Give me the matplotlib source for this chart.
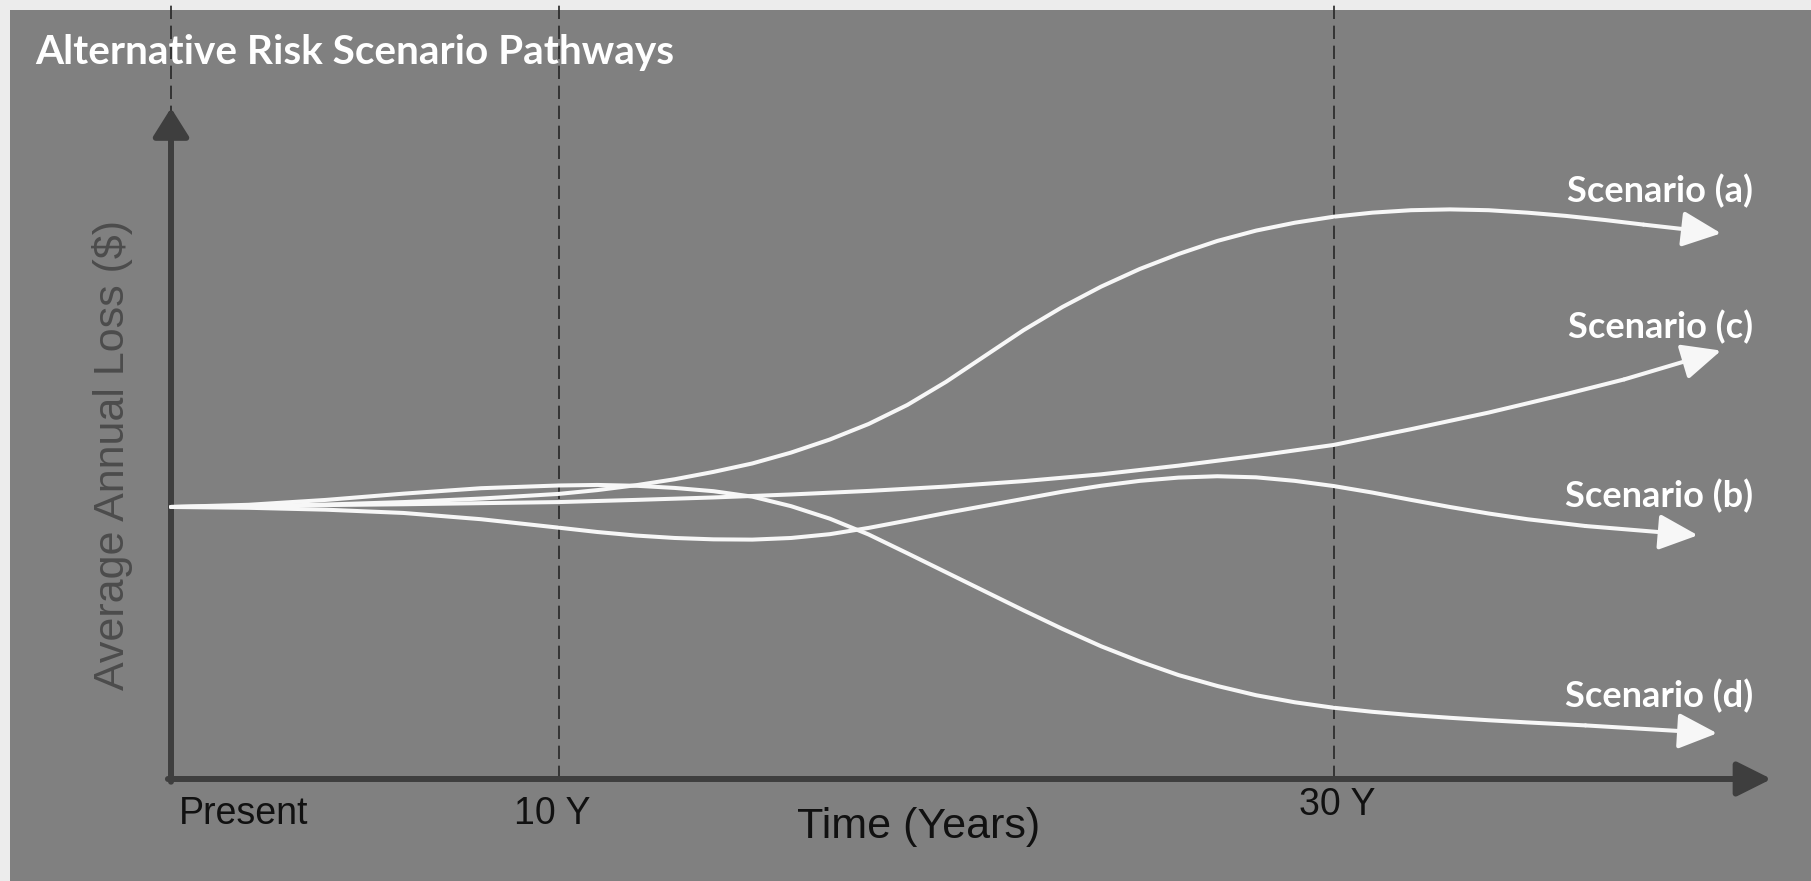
import matplotlib
matplotlib.use("Agg")
import matplotlib.pyplot as plt

# ── data (time in years, loss in relative units, present = 100) ─────────────
a_years = [0, 2, 4, 6, 8, 10, 11, 12, 13, 14, 15, 16, 17, 18, 19, 20, 21, 22, 23, 24, 25, 26,
           27, 28, 29, 30, 31, 32, 33, 34, 35, 36, 37, 38, 40.0]
a_loss  = [100, 100.3, 100.9, 101.8, 103.1, 104.8, 106.2, 108.0, 110.2, 112.9, 116.0, 120.0,
           124.8, 130.5, 137.5, 146.0, 155.5, 165.0, 173.5, 181.0, 187.5, 193.0, 197.8, 201.6,
           204.5, 206.7, 208.2, 209.1, 209.4, 209.1, 208.2, 207.0, 205.5, 203.8, 200.6]

b_years = [0, 2, 4, 6, 8, 10, 11, 12, 13, 14, 15, 16, 17, 18, 19, 20, 21, 22, 23, 24, 25, 26,
           27, 28, 29, 30, 31, 32, 33, 34, 35, 36.5, 39.4]
b_loss  = [100, 99.7, 99.0, 97.8, 95.5, 92.4, 90.8, 89.5, 88.6, 88.1, 88.0, 88.6, 90.0, 92.3,
           95.0, 97.8, 100.4, 103.0, 105.6, 107.8, 109.6, 110.8, 111.3, 110.9, 109.6, 107.7,
           105.3, 102.6, 100.0, 97.6, 95.5, 93.0, 89.6]

c_years = [0, 2, 4, 6, 8, 10, 12, 14, 16, 18, 20, 22, 24, 26, 28, 30, 32, 34, 36, 37.5, 40.0]
c_loss  = [100, 100.3, 100.7, 101.0, 101.4, 101.8, 102.6, 103.5, 104.6, 105.9, 107.5, 109.5,
           112.0, 115.2, 118.8, 122.8, 128.6, 134.7, 141.5, 146.9, 157.5]

d_years = [0, 2, 4, 6, 8, 10, 11, 12, 13, 14, 15, 16, 17, 18, 19, 20, 21, 22, 23, 24, 25, 26,
           27, 28, 29, 30, 31, 32, 33, 34, 35, 36.5, 39.9]
d_loss  = [100, 100.8, 102.6, 104.9, 106.9, 107.9, 108.1, 107.8, 107.0, 105.8, 103.8, 100.3,
           95.7, 89.9, 83.0, 76.0, 69.0, 62.0, 55.2, 48.8, 43.2, 38.2, 34.2, 30.8, 28.2, 26.2,
           24.7, 23.5, 22.5, 21.6, 20.8, 19.7, 16.8]

scenarios = [
    ("Scenario (a)", a_years, a_loss, 216),
    ("Scenario (c)", c_years, c_loss, 166),
    ("Scenario (b)", b_years, b_loss, 104),
    ("Scenario (d)", d_years, d_loss, 30.5),
]

milestones = [0, 10, 30]
milestone_labels = ["Present", "10 Y", "30 Y"]

# ── figure ──────────────────────────────────────────────────────────────────
W, H = 1811, 881
fig = plt.figure(figsize=(W / 100, H / 100), dpi=100, facecolor="#ececec")
ax = fig.add_axes([10 / W, 0, 1 - 10 / W, 1 - 10 / H])
ax.set_facecolor("#808080")
ax.set_xlim(-4.155, 42.32)
ax.set_ylim(-37.5, 282.7)
for s in ax.spines.values():
    s.set_visible(False)
ax.set_xticks([])
ax.set_yticks([])

LINE = "#f7f7f7"
AXC = "#3e3e3e"

# dashed time markers
for t in milestones:
    ax.plot([t, t], [0, 286.4], color="#262626", lw=1.2, ls=(0, (8, 4)),
            clip_on=False, zorder=1)

# axes arrows
ax.annotate("", xy=(41.3, 0), xytext=(-0.08, 0),
            arrowprops=dict(arrowstyle="-|>,head_length=21,head_width=10.5",
                            mutation_scale=1, lw=4.3, color=AXC,
                            shrinkA=0, shrinkB=0), zorder=2)
ax.annotate("", xy=(0, 246.7), xytext=(0, -1),
            arrowprops=dict(arrowstyle="-|>,head_length=17.5,head_width=11",
                            mutation_scale=1, lw=4.3, color=AXC,
                            shrinkA=0, shrinkB=0), zorder=2)

# scenario pathways
for name, t, v, ly in scenarios:
    ax.plot(t[:-1], v[:-1], color=LINE, lw=2.9, solid_joinstyle="round",
            solid_capstyle="round", zorder=3)
    ax.annotate("", xy=(t[-1], v[-1]), xytext=(t[-2], v[-2]),
                arrowprops=dict(arrowstyle="-|>,head_length=24,head_width=11",
                                mutation_scale=1, lw=2.9, color=LINE,
                                shrinkA=0, shrinkB=0), zorder=3)
    ax.text(40.82, ly, name, ha="right", va="center", color="white",
            fontsize=26, fontweight="bold", family="Lato", zorder=4)

# labels
ax.text(-3.5, 267, "Alternative Risk Scenario Pathways", ha="left", va="center",
        color="white", fontsize=29.2, fontweight="bold", family="Lato")

ax.text(0.2, -12.9, milestone_labels[0], ha="left", va="center",
        color="#111111", fontsize=27, family="Liberation Sans")
ax.text(milestones[1] - 0.15, -12.9, milestone_labels[1], ha="center", va="center",
        color="#111111", fontsize=27, family="Liberation Sans")
ax.text(milestones[2] + 0.1, -9.6, milestone_labels[2], ha="center", va="center",
        color="#111111", fontsize=27, family="Liberation Sans")
ax.text(19.3, -17.6, "Time (Years)", ha="center", va="center",
        color="#111111", fontsize=31, family="Liberation Sans")
ax.text(-1.5, 119, "Average Annual Loss ($)", ha="center", va="center",
        rotation=90, color="#4c4c4c", fontsize=31, family="Liberation Sans")

fig.savefig("out.png", dpi=100, facecolor=fig.get_facecolor())
